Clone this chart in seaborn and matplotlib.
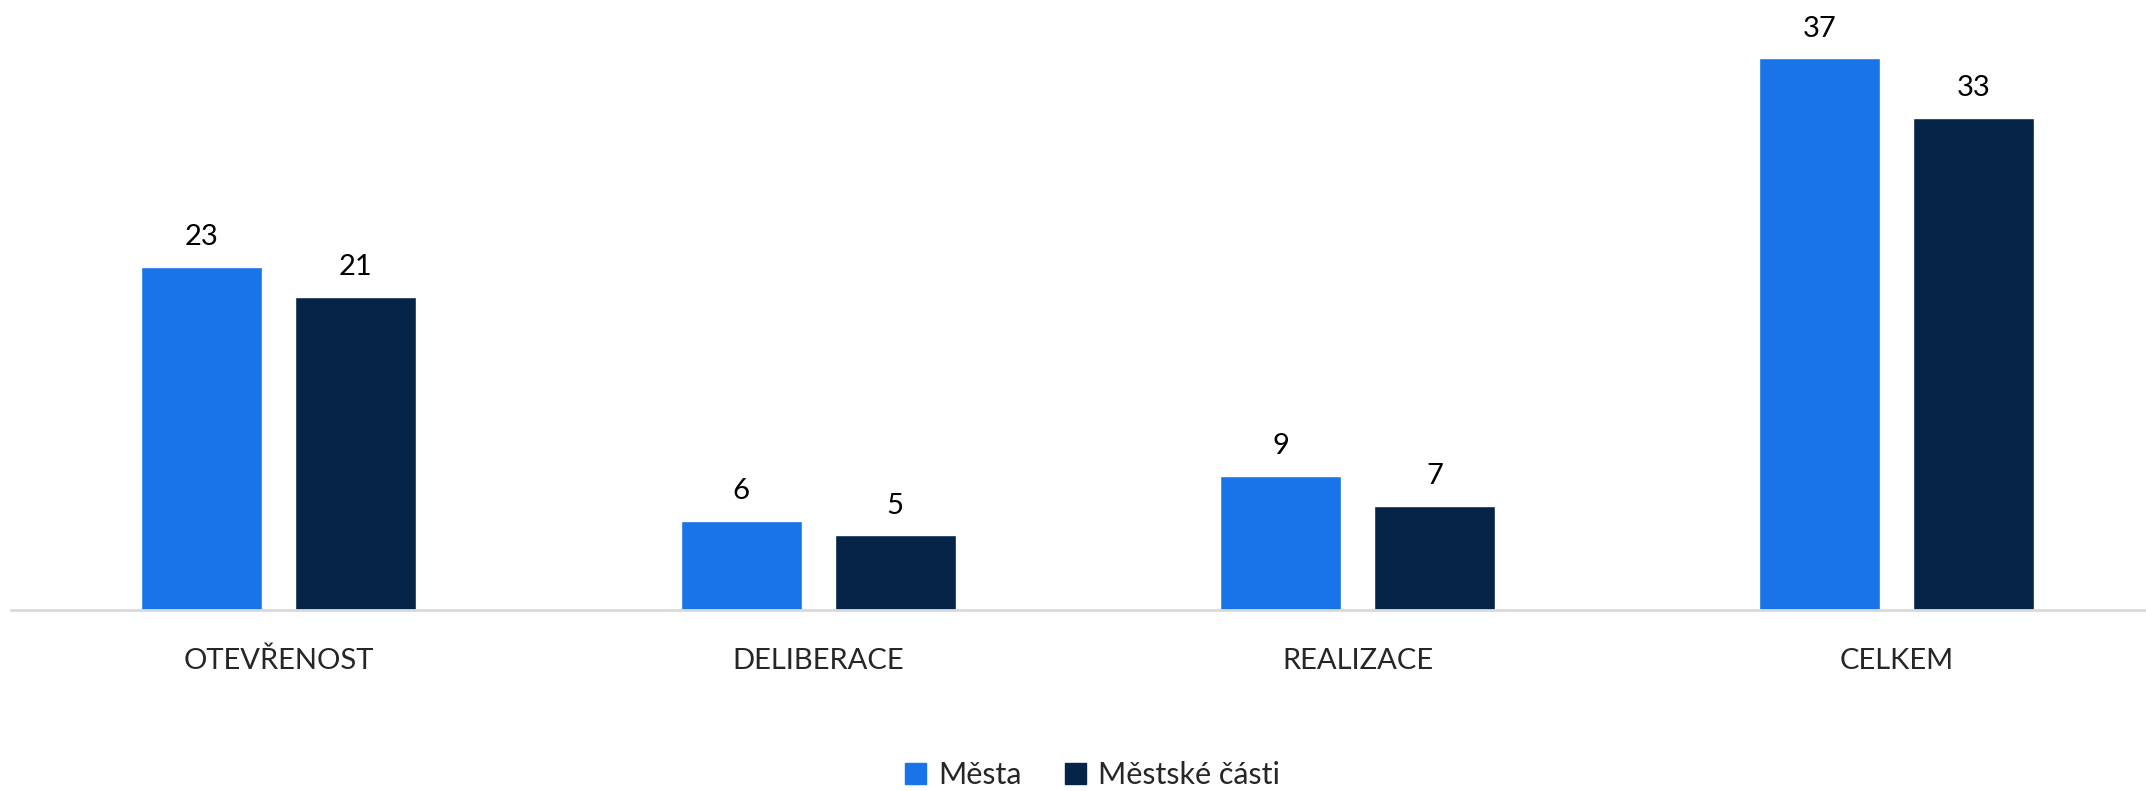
import pandas as pd
import seaborn as sns
import matplotlib.pyplot as plt

# data
categories = ['OTEVŘENOST', 'DELIBERACE', 'REALIZACE', 'CELKEM']
mesta = [23, 6, 9, 37]
mestske_casti = [21, 5, 7, 33]
series_names = ['Města', 'Městské části']
colors = ['#1874E8', '#052448']

df = pd.DataFrame({
    'kategorie': categories * 2,
    'hodnota': mesta + mestske_casti,
    'typ': [series_names[0]] * 4 + [series_names[1]] * 4,
})

sns.set_style('white')
plt.rcParams['font.family'] = ['Lato', 'DejaVu Sans']

fig = plt.figure(figsize=(21.46, 7.91), dpi=100)
ax = fig.add_axes([0.005, 0.2288, 0.995, 0.7712])

sns.barplot(data=df, x='kategorie', y='hodnota', hue='typ', palette=colors,
            width=0.571, gap=0.214, saturation=1, ax=ax, legend=False)

for c in ax.containers:
    ax.bar_label(c, padding=12, fontsize=21, color='black')

ax.set_ylim(0, 40.9)
ax.set_xlim(-0.497, 3.462)
ax.set_xlabel('')
ax.set_ylabel('')
ax.set_yticks([])
ax.tick_params(axis='x', length=0, labelsize=21, pad=27)
for s in ['top', 'right', 'left']:
    ax.spines[s].set_visible(False)
ax.spines['bottom'].set_color('#d9d9d9')
ax.spines['bottom'].set_linewidth(2)

handles = [plt.Rectangle((0, 0), 1, 1, color=col) for col in colors]
fig.legend(handles, series_names, loc='center', bbox_to_anchor=(0.509, 0.02),
           ncol=2, frameon=False, fontsize=22, handlelength=0.7, handleheight=0.7,
           handletextpad=0.4, columnspacing=1.4)

fig.savefig('out.png', dpi=100)
